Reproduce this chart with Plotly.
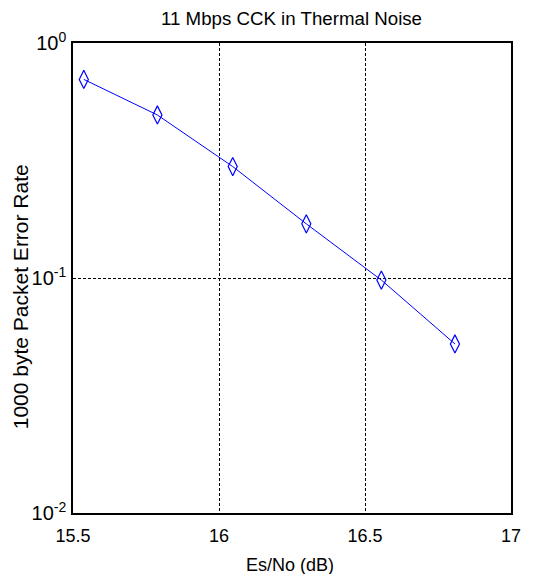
import plotly.graph_objects as go

esno_db = [15.537, 15.789, 16.047, 16.299, 16.556, 16.808]
per = [0.700, 0.494, 0.298, 0.170, 0.098, 0.0524]

x_ticks = [15.5, 16, 16.5, 17]
x_tick_text = ["15.5", "16", "16.5", "17"]
y_ticks = [0.01, 0.1, 1]
y_tick_text = ["10<sup>-2</sup>", "10<sup>-1</sup>", "10<sup>0</sup>"]

title_text = "11 Mbps CCK in Thermal Noise"
x_title = "Es/No (dB)"
y_title = "1000 byte Packet Error Rate"

fig = go.Figure()
fig.add_trace(go.Scatter(
    x=esno_db, y=per, mode="lines+markers",
    line=dict(color="#0000ff", width=1),
    marker=dict(symbol="diamond-tall-open", size=13, color="#0000ff",
                line=dict(width=1.2, color="#0000ff")),
    showlegend=False,
))

font = dict(family="Liberation Sans, Arial, sans-serif", color="black")
W, H = 525, 566
L, R, T, B = 65, 20, 35, 61
fig.update_layout(
    width=W, height=H,
    margin=dict(l=L, r=R, t=T, b=B),
    paper_bgcolor="white", plot_bgcolor="white",
    font=dict(**font, size=18),
    title=dict(text=title_text, x=283.5 / W, xanchor="center",
               y=1 - 10 / H, yanchor="middle", font=dict(**font, size=18.7)),
)
fig.update_xaxes(
    range=[15.5, 17], tickvals=x_ticks, ticktext=x_tick_text,
    showline=True, linecolor="black", linewidth=1.5, mirror=True,
    showgrid=True, gridcolor="black", gridwidth=1, griddash="3px,2px",
    ticks="", zeroline=False, tickfont=dict(**font, size=18),
    ticklabelstandoff=6,
)
fig.update_yaxes(
    type="log", range=[-2, 0], tickvals=y_ticks, ticktext=y_tick_text,
    showline=True, linecolor="black", linewidth=1.5, mirror=True,
    showgrid=True, gridcolor="black", gridwidth=1, griddash="3px,2px",
    ticks="", zeroline=False, tickfont=dict(**font, size=20),
    ticklabelstandoff=1,
)
pw, ph = W - L - R, H - T - B
fig.add_annotation(text=x_title, xref="paper", yref="paper",
                   x=(283 - L) / pw, y=(H - B - 557) / ph,
                   xanchor="center", yanchor="middle", showarrow=False,
                   font=dict(**font, size=18))
fig.add_annotation(text=y_title, xref="paper", yref="paper",
                   x=(12 - L) / pw, y=(H - B - 289) / ph, textangle=-90,
                   xanchor="center", yanchor="middle", showarrow=False,
                   font=dict(**font, size=21))
fig.write_html("out.html")
